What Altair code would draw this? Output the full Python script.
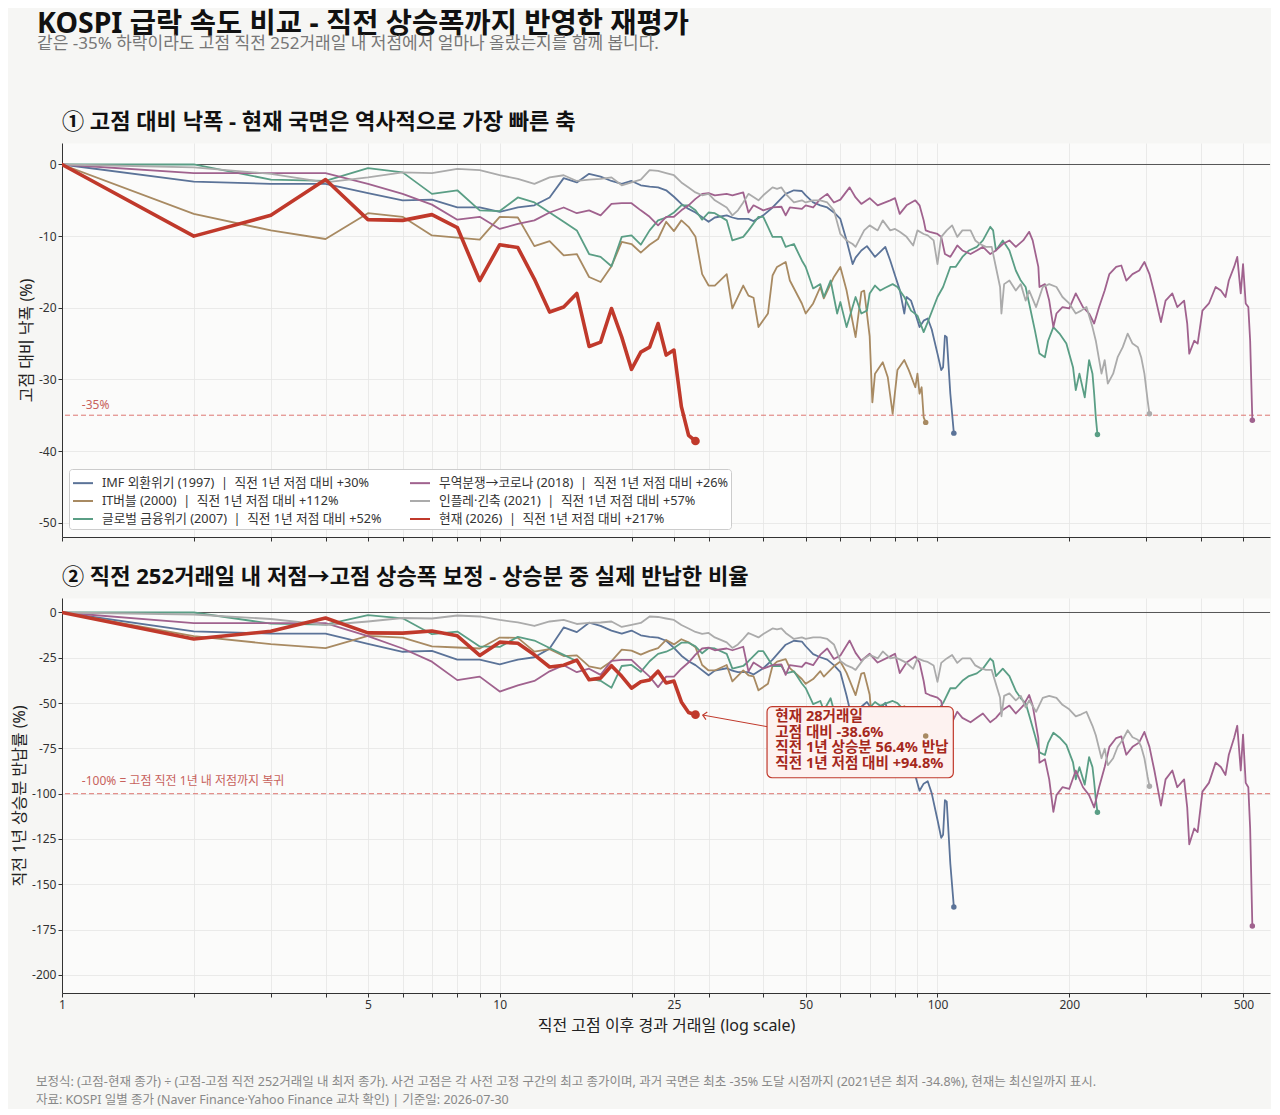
import altair as alt
import pandas as pd

FONT = "Noto Sans, Noto Sans CJK KR"

# ---------------- data ----------------
keys = ["imf", "it", "gfc", "trade", "infl", "now"]
names = ["IMF 외환위기 (1997)", "IT버블 (2000)", "글로벌 금융위기 (2007)",
         "무역분쟁→코로나 (2018)", "인플레·긴축 (2021)", "현재 (2026)"]
rises = [30, 112, 52, 26, 57, 217]          # 직전 1년 저점 대비 상승률 (%)
colors = ["#5b7398", "#a88a62", "#5a9e85", "#a0628e", "#ababab", "#c0392b"]

first_days = list(range(1, 29))

imf_days = first_days + [30, 31, 33, 34, 35, 37, 38, 40, 42, 45, 47, 49, 50, 52, 54, 56, 58, 60, 62, 64,
                         65, 67, 69, 72, 76, 78, 80, 82, 84, 85, 87, 89, 91, 93, 95, 97, 100, 102, 103, 104,
                         105, 107, 109]
imf_dd = [0, -2.4, -2.7, -2.7, -4.0, -5.0, -4.9, -6.0, -6.0, -6.6, -6.0, -5.7, -4.6, -1.9, -2.5, -1.3, -1.7,
          -2.3, -2.7, -2.3, -2.9, -3.1, -3.2, -3.6, -4.5, -5.5, -6.2, -6.7,
          -8.0, -7.4, -7.1, -7.4, -7.6, -7.6, -7.9, -7.1, -6.0, -4.1,
          -3.6, -3.7, -4.3, -5.3, -5.7, -6.0, -6.7, -7.6, -10.6, -13.9,
          -13.0, -12.0, -11.4, -12.9, -11.5, -13.4, -15.5, -17.5, -20.8, -18.5,
          -19.0, -20.8, -22.7, -21.8, -21.5, -23.0, -26.4, -28.7, -28.3, -23.9,
          -24.1, -32.0, -37.5]

it_days = first_days + [29, 30, 31, 33, 34, 36, 37, 38, 39, 41, 42, 43, 45, 46, 49, 50, 52, 54, 55, 58,
                        60, 62, 65, 67, 68, 69, 70, 71, 72, 75, 77, 79, 81, 84, 86, 89, 90, 91, 92, 93, 94]
it_dd = [0, -6.9, -9.2, -10.4, -6.8, -7.3, -9.9, -10.2, -10.5, -7.3, -7.4, -11.4, -10.7, -12.7, -12.5, -15.7,
         -16.4, -14.2, -10.8, -11.1, -12.3, -11.2, -10.4, -8.0, -9.3, -7.8, -8.7, -10.1,
         -15.3, -16.9, -16.9, -15.3, -20.1, -16.9, -18.3, -18.6, -22.7, -20.8,
         -15.5, -14.3, -13.6, -16.2, -19.4, -20.8, -19.4, -17.1, -18.7, -15.7,
         -14.3, -17.6, -24.1, -17.8, -17.6, -20.8, -24.0, -33.2, -29.2, -27.6,
         -29.7, -34.8, -28.7, -27.3, -28.7, -31.1, -29.2, -32.0, -31.1, -35.3,
         -36.0]

gfc_days = first_days + [29, 30, 31, 33, 34, 36, 37, 39, 40, 41, 42, 44, 45, 47, 49, 50, 52, 54, 55, 57,
                         59, 60, 62, 65, 67, 69, 70, 72, 74, 76, 79, 81, 84, 87, 90, 93, 95, 100, 103, 107,
                         110, 114, 118, 123, 127, 132, 134, 136, 141, 146, 151, 155, 159, 162, 167, 171, 176,
                         179, 184, 190, 197, 204, 207, 211, 217, 222, 226, 228, 230, 232]
gfc_dd = [0, 0, -2.1, -2.3, -0.5, -1.1, -4.1, -3.6, -6.4, -6.5, -4.6, -5.3, -6.7, -8.0, -9.2, -12.5, -12.9,
          -14.2, -10.1, -9.9, -11.2, -9.2, -7.8, -7.4, -6.7, -5.7, -5.7, -6.4,
          -7.7, -6.7, -6.8, -7.8, -10.6, -10.1, -9.2, -7.3, -7.3, -8.7,
          -10.1, -10.1, -11.5, -11.1, -13.4, -14.3, -17.3, -16.7, -18.5, -16.2,
          -20.8, -19.2, -22.7, -18.5, -20.8, -20.4, -18.0, -16.9, -17.6, -17.2,
          -16.7, -17.1, -18.5, -20.4, -21.1, -23.4, -22.0, -18.5, -17.1, -14.3,
          -14.3, -12.9, -12.0, -11.5, -10.6, -8.7, -9.2, -12.0, -10.6, -12.0,
          -14.8, -16.2, -17.1, -19.4, -23.2, -26.4, -26.9, -24.6, -22.7, -23.6,
          -25.0, -28.3, -31.5, -29.2, -32.5, -27.3, -29.2, -32.0, -35.3, -37.7]

trade_days = first_days + [29, 30, 31, 33, 34, 35, 36, 37, 38, 40, 42, 44, 45, 46, 49, 50, 52, 54, 56, 58,
                           60, 63, 65, 67, 70, 73, 78, 80, 82, 85, 89, 91, 93, 94, 96, 100, 102, 104, 107, 111,
                           114, 119, 123, 127, 132, 136, 141, 146, 151, 157, 162, 165, 170, 171, 176, 180, 184,
                           187, 193, 200, 207, 215, 222, 228, 234, 241, 247, 256, 263, 270, 279, 289, 297, 305,
                           313, 324, 332, 344, 353, 366, 372, 376, 386, 393, 403, 417, 432, 444, 455, 463,
                           476, 484, 493, 499, 506, 513, 518, 524]
trade_dd = [0, -1.2, -1.2, -1.2, -2.7, -4.1, -5.6, -7.7, -7.3, -9.0, -8.3, -7.8, -6.7, -6.0, -6.8, -6.4,
            -7.1, -5.5, -5.4, -5.4, -6.4, -7.3, -8.5, -7.3, -7.3, -6.4, -5.7, -4.8,
            -4.1, -4.0, -4.3, -4.1, -4.3, -4.1, -3.9, -6.7, -5.7, -6.4,
            -6.0, -5.9, -7.1, -6.0, -6.2, -5.7, -6.0, -4.8, -4.1, -5.3,
            -4.9, -3.2, -4.6, -5.5, -4.7, -5.7, -5.0, -4.7, -6.9, -5.7,
            -5.0, -5.7, -7.8, -9.2, -9.4, -9.7, -10.1, -12.5, -12.9, -11.3,
            -12.0, -12.5, -12.0, -11.5, -12.5, -12.0, -11.1, -10.6, -11.5, -10.6,
            -9.4, -10.6, -14.3, -17.1, -16.7, -19.0, -22.7, -20.8, -19.9, -20.1,
            -18.0, -19.9, -20.8, -22.2, -19.9, -17.6, -15.3, -14.3, -14.1, -16.2,
            -15.3, -14.8, -13.6, -15.3, -18.0, -22.0, -19.0, -18.0, -19.9, -19.0,
            -22.2, -26.4, -24.6, -25.0, -20.4, -19.4, -17.1, -17.6, -18.5, -16.2,
            -14.3, -12.9, -18.0, -13.9, -19.4, -19.9, -24.6, -35.7]

infl_days = first_days + [29, 30, 31, 33, 34, 35, 36, 37, 39, 40, 42, 43, 44, 45, 47, 49, 50, 52, 54, 56,
                          58, 60, 62, 64, 65, 68, 70, 73, 75, 78, 80, 82, 85, 88, 90, 93, 95, 98, 100, 102,
                          105, 108, 111, 114, 119, 122, 125, 129, 133, 135, 139, 140, 142, 146, 151, 155, 159,
                          162, 168, 174, 180, 187, 193, 200, 207, 213, 219, 226, 230, 237, 241, 245, 252, 258,
                          265, 272, 279, 287, 292, 297, 302, 305]
infl_dd = [0, -0.4, -1.3, -2.5, -1.8, -1.1, -1.2, -0.6, -0.8, -1.5, -2.0, -2.7, -1.8, -1.5, -2.3, -2.1, -2.0,
           -1.8, -2.9, -2.5, -2.1, -0.8, -0.9, -1.2, -1.5, -2.5, -3.2, -3.9,
           -4.3, -4.1, -5.0, -6.0, -7.1, -6.4, -5.3, -4.1, -5.0, -4.3,
           -3.2, -3.4, -3.2, -4.1, -5.3, -5.0, -5.3, -5.0, -5.0, -5.3,
           -6.4, -9.7, -10.6, -11.1, -11.5, -9.2, -8.5, -9.2, -7.8, -9.2,
           -9.0, -9.4, -10.1, -11.3, -9.2, -9.7, -9.9, -10.6, -13.9, -10.1,
           -9.2, -8.5, -10.1, -9.2, -9.2, -10.6, -11.1, -11.5, -11.5, -13.4,
           -17.1, -20.8, -16.7, -16.2, -17.6, -16.7, -19.0, -17.6, -19.9, -17.1,
           -16.7, -17.1, -18.5, -19.4, -20.8, -20.4, -19.9, -22.7, -24.6, -29.2,
           -27.3, -30.6, -29.2, -26.9, -25.5, -23.6, -25.0, -25.5, -26.9, -29.2,
           -32.9, -34.8]

now_days = first_days
now_dd = [0, -10.0, -7.1, -2.1, -7.7, -7.8, -7.0, -8.8, -16.2, -11.2, -11.6, -16.0, -20.6, -19.9, -18.0,
          -25.4, -24.8, -20.1, -24.1, -28.6, -26.2, -25.5, -22.2, -26.6, -25.9, -33.8, -37.8, -38.6]

DAYS = {"imf": imf_days, "it": it_days, "gfc": gfc_days, "trade": trade_days, "infl": infl_days, "now": now_days}
DD = {"imf": imf_dd, "it": it_dd, "gfc": gfc_dd, "trade": trade_dd, "infl": infl_dd, "now": now_dd}

ann_lines = ["현재 28거래일", "고점 대비 -38.6%", "직전 1년 상승분 56.4% 반납", "직전 1년 저점 대비 +94.8%"]
footer1 = ("보정식: (고점-현재 종가) ÷ (고점-고점 직전 252거래일 내 최저 종가). 사건 고점은 각 사전 고정 구간의 최고 종가이며, "
           "과거 국면은 최초 -35% 도달 시점까지 (2021년은 최저 -34.8%), 현재는 최신일까지 표시.")
footer2 = "자료: KOSPI 일별 종가 (Naver Finance·Yahoo Finance 교차 확인) | 기준일: 2026-07-30"

x_major = [1, 5, 10, 25, 50, 100, 200, 500]
x_grid = [1, 2, 3, 4, 5, 6, 7, 8, 9, 10, 20, 25, 30, 40, 50, 60, 70, 80, 90, 100, 200, 300, 400, 500]

# ---------------- tables ----------------
rows, labels = [], []
for k, n, r in zip(keys, names, rises):
    lab = f"{n}\u00a0\u00a0|\u00a0\u00a0직전 1년 저점 대비 +{r}%"
    labels.append(lab)
    ds, vs = DAYS[k], DD[k]
    assert len(ds) == len(vs), k
    factor = (100 + r) / r      # 고점/(고점-저점)
    for d, v in zip(ds, vs):
        rows.append({"key": k, "label": lab, "day": d, "dd": v, "ret": round(v * factor, 2)})
df = pd.DataFrame(rows)
ends = df.groupby("key").tail(1)
others = df[df.key != "now"]
cur = df[df.key == "now"]
ends_o = ends[ends.key != "now"]
ends_c = ends[ends.key == "now"]

color_scale = alt.Scale(domain=labels, range=colors)

legend = alt.Legend(
    title=None, orient="none", legendX=7, legendY=326, columns=2, columnPadding=24, rowPadding=-1,
    symbolType="stroke", symbolSize=400, symbolStrokeWidth=2, labelFontSize=12.7, labelFont=FONT,
    labelColor="#333333", labelLimit=0, fillColor="#ffffff", strokeColor="#cccccc", padding=3,
    cornerRadius=3, labelOffset=8,
)

xscale = alt.Scale(type="log", domain=[1, 575], nice=False)
majors_expr = "indexof([" + ",".join(str(v) for v in x_major) + "], datum.value) >= 0 ? datum.label : ''"


def xenc(show):
    if show:
        ax = alt.Axis(values=x_grid, format="d", title="직전 고점 이후 경과 거래일 (log scale)",
                      labelExpr=majors_expr, titlePadding=7, labelFlush=False)
    else:
        ax = alt.Axis(values=x_grid, labels=False, title=None)
    return alt.X("day:Q", scale=xscale, axis=ax)


def panel(field, ydom, yvals, ytitle, title, show_x, with_legend, ref_y, ref_label, ref_label_y,
          height, extra=()):
    x = xenc(show_x)
    y = alt.Y(f"{field}:Q", scale=alt.Scale(domain=ydom, nice=False, zero=False),
              axis=alt.Axis(values=yvals, title=ytitle, labelExpr="toString(datum.value)"))
    col = alt.Color("label:N", scale=color_scale, legend=legend if with_legend else None)
    col_nl = alt.Color("label:N", scale=color_scale, legend=None)

    zero = alt.Chart(pd.DataFrame({"v": [0]})).mark_rule(color="#555555", strokeWidth=1).encode(
        y=alt.Y("v:Q", scale=alt.Scale(domain=ydom, nice=False, zero=False)))
    ref = alt.Chart(pd.DataFrame({"v": [ref_y]})).mark_rule(
        color="#d9605a", strokeWidth=1, strokeDash=[5, 3], opacity=0.85).encode(y="v:Q")
    ref_txt = alt.Chart(pd.DataFrame({"d": [1.11], "v": [ref_label_y], "t": [ref_label]})).mark_text(
        align="left", baseline="middle", fontSize=12, color="#c8625c", font=FONT).encode(
        x=alt.X("d:Q", scale=xscale), y="v:Q", text="t:N")
    lines_o = alt.Chart(others).mark_line(strokeWidth=1.8, strokeJoin="round", clip=True).encode(
        x=x, y=y, color=col, detail="key:N", order="day:Q")
    lines_c = alt.Chart(cur).mark_line(strokeWidth=3.6, strokeJoin="round", strokeCap="round", clip=True).encode(
        x=x, y=y, color=col, order="day:Q")
    dots_o = alt.Chart(ends_o).mark_circle(size=30, opacity=1).encode(x=x, y=y, color=col_nl)
    dots_c = alt.Chart(ends_c).mark_circle(size=75, opacity=1).encode(x=x, y=y, color=col_nl)
    layers = [zero, ref, ref_txt, lines_o, lines_c] + list(extra) + [dots_o, dots_c]
    return alt.layer(*layers).properties(
        width=1208, height=height,
        title=alt.TitleParams(title, anchor="start", frame="group", fontSize=22.1, fontWeight="bold",
                              color="#111111", font=FONT, offset=9),
        view=alt.ViewBackground(fill="#fbfbfa", stroke="transparent"),
    )


# annotation (bottom panel)
ann_box = alt.Chart(pd.DataFrame({"x": [40.8], "x2": [108.7], "y": [-52.0], "y2": [-91.2]})).mark_rect(
    fill="#fdf2f0", stroke="#c0392b", strokeWidth=1.2, cornerRadius=5).encode(
    x=alt.X("x:Q", scale=xscale), x2="x2:Q", y="y:Q", y2="y2:Q")
ann_text = alt.Chart(pd.DataFrame({"x": [42.6], "y": [-53.2], "t": [ann_lines]})).mark_text(
    align="left", baseline="top", fontSize=14.6, fontWeight="bold", color="#a5281c", lineHeight=15.8,
    font=FONT).encode(x=alt.X("x:Q", scale=xscale), y="y:Q", text="t")
ann_arrow = alt.Chart(pd.DataFrame({"x": [40.8], "x2": [29.1], "y": [-63.0], "y2": [-56.6]})).mark_rule(
    color="#c0392b", strokeWidth=1).encode(x=alt.X("x:Q", scale=xscale), x2="x2:Q", y="y:Q", y2="y2:Q")
ann_head = alt.Chart(pd.DataFrame({"x": [29.1], "y": [-56.6]})).mark_point(
    shape="M1,-1L0,0L1,1", filled=False, size=60, strokeWidth=1.2, color="#c0392b", opacity=1).encode(
    x=alt.X("x:Q", scale=xscale), y="y:Q", angle=alt.value(10))

top = panel("dd", [-52, 3], [0, -10, -20, -30, -40, -50], "고점 대비 낙폭 (%)",
            "① 고점 대비 낙폭 - 현재 국면은 역사적으로 가장 빠른 축", False, True,
            -35, "-35%", -33.6, 394)
bottom = panel("ret", [-210, 8], [0, -25, -50, -75, -100, -125, -150, -175, -200], "직전 1년 상승분 반납률 (%)",
               "② 직전 252거래일 내 저점→고점 상승폭 보정 - 상승분 중 실제 반납한 비율", True, False,
               -100, "-100% = 고점 직전 1년 내 저점까지 복귀", -92.8, 395,
               extra=[ann_box, ann_arrow, ann_head, ann_text])

foot = alt.layer(
    alt.Chart(pd.DataFrame({"t": [footer1]})).mark_text(
        align="left", baseline="middle", fontSize=12.5, color="#888888", font=FONT).encode(
        x=alt.value(-26), y=alt.value(24), text="t:N"),
    alt.Chart(pd.DataFrame({"t": [footer2]})).mark_text(
        align="left", baseline="middle", fontSize=12.5, color="#888888", font=FONT).encode(
        x=alt.value(-26), y=alt.value(42), text="t:N"),
).properties(width=1208, height=50, view=alt.ViewBackground(fill="transparent", stroke="transparent"))

chart = alt.vconcat(top, bottom, foot, spacing=23).resolve_legend(color="independent").properties(
    title=alt.TitleParams(
        "KOSPI 급락 속도 비교 - 직전 상승폭까지 반영한 재평가",
        subtitle="같은 -35% 하락이라도 고점 직전 252거래일 내 저점에서 얼마나 올랐는지를 함께 봅니다.",
        anchor="start", frame="bounds", fontSize=28.5, fontWeight="bold", color="#111111", font=FONT,
        subtitleFont=FONT, subtitleFontSize=17, subtitleColor="#777777", subtitlePadding=-2,
        offset=58, dx=26),
    padding={"left": 3, "top": 1, "right": 0, "bottom": 0},
    background="#f6f6f4",
).configure_axis(
    labelFont=FONT, labelFontSize=12, labelColor="#333333", titleFont=FONT, titleFontSize=16,
    titleColor="#222222", titleFontWeight="normal", gridColor="#e6e6e4", gridWidth=0.8,
    domainColor="#333333", tickColor="#333333", tickSize=4,
).configure_view(stroke="transparent")

chart.save("out.html", embed_options={"renderer": "svg", "actions": False})
